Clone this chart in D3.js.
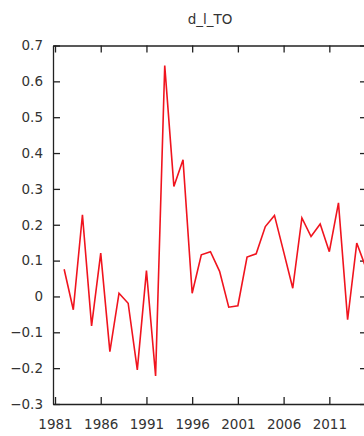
<!DOCTYPE html>
<html>
<head>
<meta charset="utf-8">
<script src="https://cdn.jsdelivr.net/npm/d3@7"></script>
<style>
  html, body { margin: 0; padding: 0; background: #fff; }
  svg { display: block; }
  .axis text { font-family: "DejaVu Sans", Verdana, sans-serif; font-size: 13.5px; fill: #333; }
  .axis path, .axis line { stroke: #222; stroke-width: 1.3; }
</style>
</head>
<body>
<svg id="chart" width="364" height="436"></svg>
<script>
// Annual series: first difference of log trade openness
const title = "d_l_TO";
const years = [1982, 1983, 1984, 1985, 1986, 1987, 1988, 1989, 1990, 1991,
               1992, 1993, 1994, 1995, 1996, 1997, 1998, 1999, 2000, 2001,
               2002, 2003, 2004, 2005, 2006, 2007, 2008, 2009, 2010, 2011,
               2012, 2013, 2014, 2015];
const values = [0.076, -0.037, 0.228, -0.082, 0.121, -0.154, 0.009, -0.019, -0.205, 0.072,
                -0.222, 0.644, 0.307, 0.381, 0.009, 0.116, 0.125, 0.070, -0.030, -0.026,
                0.110, 0.119, 0.195, 0.226, 0.125, 0.023, 0.219, 0.167, 0.202, 0.125,
                0.261, -0.065, 0.149, 0.080];
const xTickYears = [1981, 1986, 1991, 1996, 2001, 2006, 2011];
const yTickValues = [-0.3, -0.2, -0.1, 0, 0.1, 0.2, 0.3, 0.4, 0.5, 0.6, 0.7];

const svg = d3.select("#chart");
const plotLeft = 53, plotRight = 367, plotTop = 45.5, plotBottom = 404;

const x = d3.scaleLinear().domain([1980.78, 2015.12]).range([plotLeft, plotRight]);
const y = d3.scaleLinear().domain([-0.3, 0.7]).range([plotBottom, plotTop]);

const yFmt = v => (Math.abs(v) < 1e-9 ? "0" : d3.format(".1f")(v));

// Frame with inward ticks on all four sides
svg.append("g").attr("class", "axis")
  .attr("transform", `translate(0,${plotBottom})`)
  .call(d3.axisBottom(x).tickValues(xTickYears).tickFormat(d3.format("d"))
        .tickSize(-7).tickSizeOuter(0).tickPadding(15));

svg.append("g").attr("class", "axis")
  .attr("transform", `translate(0,${plotTop})`)
  .call(d3.axisTop(x).tickValues(xTickYears).tickFormat("")
        .tickSize(-7).tickSizeOuter(0));

svg.append("g").attr("class", "axis")
  .attr("transform", `translate(${plotLeft},0)`)
  .call(d3.axisLeft(y).tickValues(yTickValues).tickFormat(yFmt)
        .tickSize(-7).tickSizeOuter(0).tickPadding(10));

svg.append("g").attr("class", "axis")
  .attr("transform", `translate(${plotRight},0)`)
  .call(d3.axisRight(y).tickValues(yTickValues).tickFormat("")
        .tickSize(-7).tickSizeOuter(0));

// Series line
const pts = years.map((yr, i) => [yr, values[i]]);
svg.append("path")
  .datum(pts)
  .attr("fill", "none")
  .attr("stroke", "#f0141e")
  .attr("stroke-width", 1.6)
  .attr("stroke-linejoin", "miter")
  .attr("d", d3.line().x(d => x(d[0])).y(d => y(d[1])));

// Title
svg.append("text")
  .attr("x", (plotLeft + plotRight) / 2)
  .attr("y", 24)
  .attr("text-anchor", "middle")
  .attr("font-family", "DejaVu Sans, Verdana, sans-serif")
  .attr("font-size", "13.5px")
  .attr("fill", "#333")
  .text(title);
</script>
</body>
</html>
